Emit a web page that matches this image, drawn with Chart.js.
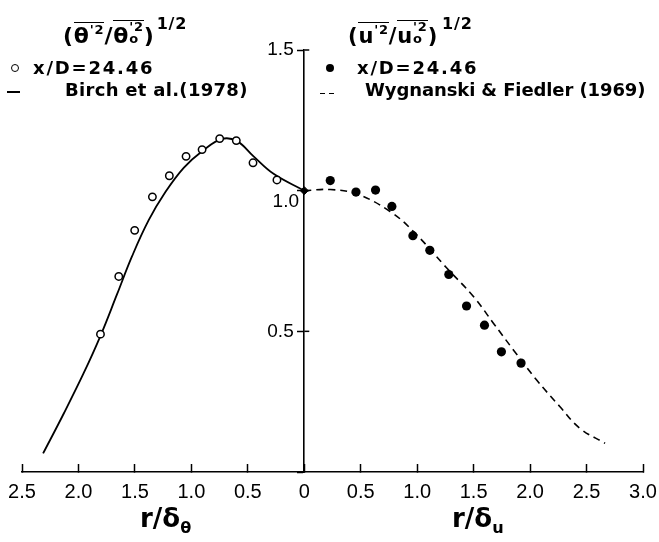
<!DOCTYPE html>
<html>
<head>
<meta charset="utf-8">
<script src="https://cdn.jsdelivr.net/npm/chart.js@4.4.0/dist/chart.umd.min.js"></script>
<style>
  html, body { margin: 0; padding: 0; background: #fff; }
  .wrap { position: relative; width: 659px; height: 542px; overflow: hidden; }
  #myChart { position: absolute; left: 0; top: 0; }
  .lbl { position: absolute; font-family: 'DejaVu Sans', sans-serif; font-weight: bold; font-size: 18px; color: #000; white-space: nowrap; line-height: 1; }
  .math { font-size: 22px; letter-spacing: 0.8px; }
  .ov { display: inline-block; border-top: 1.6px solid #000; line-height: 1; }
  .ov sup { font-size: 13px; vertical-align: 9px; line-height: 1; }
  .stk { display: inline-block; font-size: 13px; line-height: 12px; }
  .stk span { display: block; }
  .half { position: relative; top: -14px; font-size: 16px; margin-left: 2px; }
  .title { font-size: 26px; }
  .title sub { font-size: 0.62em; vertical-align: -0.4em; }
  .mk { position: absolute; }
</style>
</head>
<body>
<div class="wrap">
  <canvas id="myChart" width="659" height="542"></canvas>

  <!-- left legend: temperature fluctuation -->
  <div class="lbl math" style="left:63px; top:20px">(<span class="ov">θ<sup>'2</sup></span>/<span class="ov">θ<span class="stk"><span>'2</span><span>o</span></span></span>)<span class="half">1/2</span></div>
  <div class="mk" style="left:11px; top:64px; width:6px; height:6px; border:1.4px solid #000; border-radius:50%"></div>
  <div class="lbl" style="left:33px; top:59px; letter-spacing:1.8px">x/D=24.46</div>
  <div class="mk" style="left:7px; top:91px; width:13px; border-top:2px solid #000"></div>
  <div class="lbl" style="left:65px; top:81px; letter-spacing:0.3px">Birch et al.(1978)</div>

  <!-- right legend: velocity fluctuation -->
  <div class="lbl math" style="left:348px; top:20px; font-size:21px">(<span class="ov">u<sup>'2</sup></span>/<span class="ov">u<span class="stk"><span>'2</span><span>o</span></span></span>)<span class="half" style="margin-left:4px">1/2</span></div>
  <div class="mk" style="left:326px; top:64px; width:8px; height:8px; background:#000; border-radius:50%"></div>
  <div class="lbl" style="left:357px; top:59px; letter-spacing:1.8px">x/D=24.46</div>
  <div class="mk" style="left:320px; top:93px; width:5px; border-top:1.6px solid #000"></div>
  <div class="mk" style="left:329px; top:93px; width:5px; border-top:1.6px solid #000"></div>
  <div class="lbl" style="left:365px; top:81px; letter-spacing:-0.1px">Wygnanski &amp; Fiedler (1969)</div>

  <!-- axis titles -->
  <div class="lbl title" style="left:140px; top:505px">r/δ<sub>θ</sub></div>
  <div class="lbl title" style="left:452px; top:505px">r/δ<sub>u</sub></div>
</div>

<script>
// radial positions and intensities, temperature side (r / delta_theta, plotted to the left)
const thetaR = [1.805, 1.643, 1.502, 1.345, 1.195, 1.047, 0.905, 0.749, 0.602, 0.454, 0.242];
const thetaVal = [0.490, 0.695, 0.859, 0.978, 1.053, 1.122, 1.146, 1.185, 1.178, 1.099, 1.038];

// Birch et al. (1978) profile
const birchR = [2.313, 2.13, 1.953, 1.805, 1.658, 1.525, 1.378, 1.23, 1.068, 0.905, 0.728, 0.596, 0.449, 0.272, 0];
const birchVal = [0.066, 0.208, 0.352, 0.484, 0.632, 0.767, 0.895, 0.995, 1.081, 1.140, 1.184, 1.176, 1.122, 1.060, 1.0];

// velocity side (r / delta_u, plotted to the right)
const uR = [0.230, 0.458, 0.631, 0.776, 0.962, 1.112, 1.280, 1.437, 1.596, 1.746, 1.920];
const uVal = [1.036, 0.995, 1.002, 0.944, 0.840, 0.788, 0.702, 0.590, 0.522, 0.427, 0.387];

// Wygnanski & Fiedler (1969) profile
const wygR = [0, 0.23, 0.466, 0.76, 0.967, 1.262, 1.498, 1.675, 1.852, 2.058, 2.265, 2.442, 2.664];
const wygVal = [1.0, 1.004, 0.988, 0.926, 0.855, 0.725, 0.624, 0.529, 0.434, 0.327, 0.232, 0.155, 0.102];

// axis ranges
const xMin = -2.5, xMax = 3.0, xStep = 0.5;
const yMin = 0, yMax = 1.5, yStep = 0.5;

const left = (rs, vs) => rs.map((r, i) => ({ x: -r, y: vs[i] }));
const right = (rs, vs) => rs.map((r, i) => ({ x: r, y: vs[i] }));

// little cross ticks on the right-hand side of the centre axis
const crossTicks = {
    id: 'crossTicks',
    afterDatasetsDraw(chart) {
        const { ctx, scales: { x, y } } = chart;
        const x0 = x.getPixelForValue(0);
        ctx.save();
        ctx.strokeStyle = '#000';
        ctx.lineWidth = 1.5;
        y.ticks.forEach(t => {
            if (t.value === 0) return;
            const py = y.getPixelForValue(t.value);
            ctx.beginPath();
            ctx.moveTo(x0, py);
            ctx.lineTo(x0 + 5, py);
            ctx.stroke();
        });
        ctx.restore();
    }
};

const ctx = document.getElementById('myChart');

new Chart(ctx, {
    type: 'scatter',
    data: {
        datasets: [
            {
                label: 'theta x/D=24.46',
                data: left(thetaR, thetaVal),
                pointRadius: 3.7,
                pointBackgroundColor: '#fff',
                pointBorderColor: '#000',
                pointBorderWidth: 1.5,
                showLine: false,
                order: 0
            },
            {
                label: 'u x/D=24.46',
                data: right(uR, uVal),
                pointRadius: 4.6,
                pointBackgroundColor: '#000',
                pointBorderColor: '#000',
                pointBorderWidth: 0,
                showLine: false,
                order: 0
            },
            {
                label: 'centre',
                data: [{ x: 0, y: 1.0 }],
                pointStyle: 'rectRot',
                pointRadius: 4,
                pointBackgroundColor: '#000',
                pointBorderColor: '#000',
                showLine: false,
                order: 0
            },
            {
                label: 'Birch et al. (1978)',
                data: left(birchR, birchVal),
                showLine: true,
                borderColor: '#000',
                borderWidth: 1.8,
                pointRadius: 0,
                tension: 0.4,
                order: 1
            },
            {
                label: 'Wygnanski & Fiedler (1969)',
                data: right(wygR, wygVal),
                showLine: true,
                borderColor: '#000',
                borderWidth: 1.6,
                borderDash: [7, 5],
                pointRadius: 0,
                tension: 0.4,
                order: 1
            }
        ]
    },
    options: {
        responsive: false,
        animation: false,
        layout: { padding: { left: 22, right: 16, top: 50, bottom: 0 } },
        plugins: {
            legend: { display: false },
            tooltip: { enabled: false }
        },
        scales: {
            x: {
                type: 'linear',
                position: 'bottom',
                min: xMin,
                max: xMax,
                border: { display: true, color: '#000', width: 1.6 },
                grid: { drawOnChartArea: false, tickLength: -8, tickWidth: 1.5, tickColor: '#000' },
                ticks: {
                    stepSize: xStep,
                    padding: 16,
                    color: '#000',
                    font: { family: 'Liberation Sans', size: 20 },
                    maxRotation: 0,
                    autoSkip: false,
                    callback: v => v === 0 ? '0' : Math.abs(v).toFixed(1)
                },
                afterFit: s => {
                    s.height = 70;
                    s.paddingLeft = 0;
                    s.paddingRight = 0;
                }
            },
            y: {
                type: 'linear',
                position: { x: 0 },
                min: yMin,
                max: yMax,
                border: { display: true, color: '#000', width: 1.6 },
                grid: { drawOnChartArea: false, tickLength: 6, tickWidth: 1.5, tickColor: '#000' },
                ticks: {
                    stepSize: yStep,
                    color: '#000',
                    font: { family: 'Liberation Sans', size: 19 },
                    // labels sit clear of the centre axis; 1.0 drops below the junction point
                    callback: v => v === 0 ? '' : (v === 1 ? ['', '1.0 '] : v.toFixed(1) + '  ')
                }
            }
        }
    },
    plugins: [crossTicks]
});
</script>
</body>
</html>
